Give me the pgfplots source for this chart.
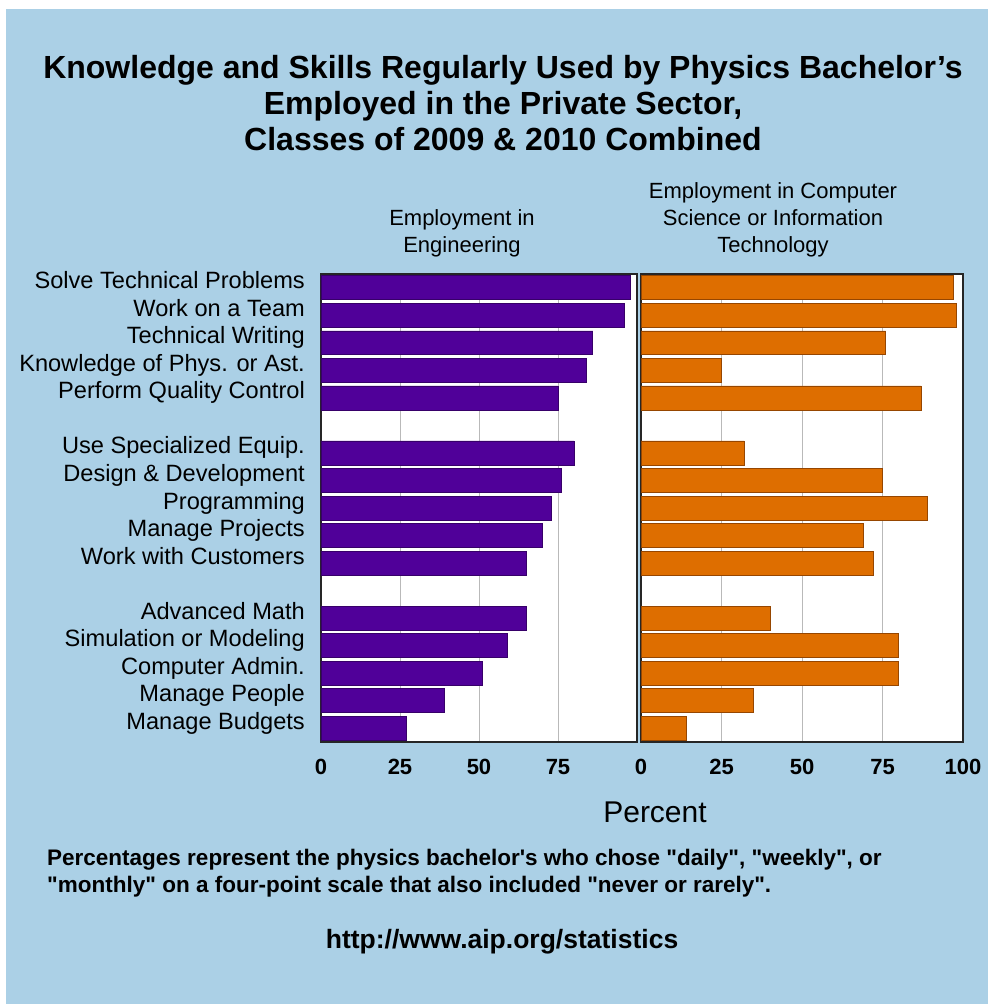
\documentclass[border=0pt]{standalone}
\usepackage{pgfplots}
\pgfplotsset{compat=1.18}
\usepackage{pgfplotstable}
\usepackage{fontspec}
\setmainfont{Liberation Sans}
\definecolor{bgblue}{RGB}{171,208,230}
\definecolor{engpurple}{RGB}{80,0,153}
\definecolor{engedge}{RGB}{55,0,105}
\definecolor{csorange}{RGB}{222,110,0}
\definecolor{csedge}{RGB}{150,70,0}

\pgfplotstableread{
slot eng cs
0 98 97
1 96 98
2 86 76
3 84 25
4 75 87
6 80 32
7 76 75
8 73 89
9 70 69
10 65 72
12 65 40
13 59 80
14 51 80
15 39 35
16 27 14
}\skills

\pgfplotsset{
  panel/.style={
    scale only axis,
    height=468pt,
    xmin=0, xmax=100,
    ymin=-0.5, ymax=16.5,
    y dir=reverse,
    enlarge y limits=false,
    axis background/.style={fill=white},
    axis line style={black!85, line width=1.5pt},
    xmajorgrids,
    major grid style={gray!55, line width=0.9pt},
    major tick length=0pt,
    /pgf/number format/assume math mode=true,
    xticklabel style={font=\bfseries\fontsize{22}{26}\selectfont, inner sep=0pt, anchor=north, yshift=-17pt},
  }
}

\newcommand{\dq}{\textquotedbl}
\newcommand{\sq}{\textquotesingle}

\begin{document}
\begin{tikzpicture}[x=1pt,y=1pt]
\fill[white] (0,0) rectangle (988,1004);
\fill[bgblue] (6,0) rectangle (988,995);

\node[anchor=base, font=\bfseries\fontsize{32}{36}\selectfont] at (503,925) {Knowledge and Skills Regularly Used by Physics Bachelor’s};
\node[anchor=base, font=\bfseries\fontsize{32}{36}\selectfont] at (503,889) {Employed in the Private Sector,};
\node[anchor=base, font=\bfseries\fontsize{32}{36}\selectfont] at (503,853) {Classes of 2009 \& 2010 Combined};

\node[anchor=base, font=\fontsize{22}{27}\selectfont] at (462,778) {Employment in};
\node[anchor=base, font=\fontsize{22}{27}\selectfont] at (462,751) {Engineering};
\node[anchor=base, font=\fontsize{22}{27}\selectfont] at (773,805) {Employment in Computer};
\node[anchor=base, font=\fontsize{22}{27}\selectfont] at (773,778) {Science or Information};
\node[anchor=base, font=\fontsize{22}{27}\selectfont] at (773,751) {Technology};

\begin{axis}[panel,
  at={(321pt,262pt)}, anchor=south west,
  width=316pt,
  xtick={0,25,50,75}, xticklabels={0,25,50,75},
  ytick={0,1,2,3,4,6,7,8,9,10,12,13,14,15,16},
  yticklabels={Solve Technical Problems, Work on a Team, Technical Writing, Knowledge of Phys. or Ast., Perform Quality Control,
    Use Specialized Equip., Design \& Development, Programming, Manage Projects, Work with Customers,
    Advanced Math, Simulation or Modeling, Computer Admin., Manage People, Manage Budgets},
  yticklabel style={font=\fontsize{23.6}{28}\selectfont, inner sep=0pt, anchor=base east, xshift=-16pt, yshift=-1pt},
]
\addplot[xbar, bar width=0.87, fill=engpurple, draw=engedge, line width=0.6pt]
  table[x=eng, y=slot] {\skills};
\end{axis}

\begin{axis}[panel,
  at={(641pt,262pt)}, anchor=south west,
  width=322pt,
  xtick={0,25,50,75,100}, xticklabels={0,25,50,75,100},
  ytick=\empty,
]
\addplot[xbar, bar width=0.87, fill=csorange, draw=csedge, line width=0.6pt]
  table[x=cs, y=slot] {\skills};
\end{axis}

\node[anchor=base, font=\fontsize{30}{34}\selectfont] at (655,181) {Percent};

\node[anchor=base west, font=\bfseries\fontsize{22.5}{27}\selectfont, inner sep=0pt] at (47,138) {Percentages represent the physics bachelor\sq s who chose \dq daily\dq, \dq weekly\dq, or};
\node[anchor=base west, font=\bfseries\fontsize{22.5}{27}\selectfont, inner sep=0pt] at (47,111) {\dq monthly\dq\ on a four-point scale that also included \dq never or rarely\dq.};

\node[anchor=base, font=\bfseries\fontsize{26.5}{30}\selectfont] at (502,55) {http://www.aip.org/statistics};
\end{tikzpicture}
\end{document}
